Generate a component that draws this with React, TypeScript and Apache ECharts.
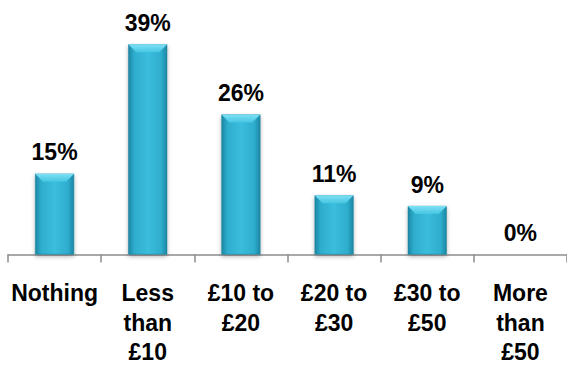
import React, { useEffect, useRef } from "react";
import * as echarts from "echarts";

const categories = ["Nothing", "Less\nthan\n£10", "£10 to\n£20", "£20 to\n£30", "£30 to\n£50", "More\nthan\n£50"];
const values = [15, 39, 26, 11, 9, 0];

export default function App() {
  const ref = useRef<HTMLDivElement>(null);
  useEffect(() => {
    const chart = echarts.init(ref.current!, null, { renderer: "svg" });
    const font = "'Liberation Sans', Arial, sans-serif";
    const barW = 39;
    chart.setOption({
      animation: false,
      grid: { left: 8, right: 0, top: 12, bottom: 112 },
      xAxis: {
        type: "category",
        data: categories,
        axisLine: { lineStyle: { color: "#8c8c8c", width: 1.5 } },
        axisTick: { show: true, length: 8, lineStyle: { color: "#8c8c8c", width: 1.5 } },
        axisLabel: {
          interval: 0,
          color: "#000",
          fontFamily: font,
          fontWeight: "bold",
          fontSize: 23,
          lineHeight: 29.5,
          margin: 24,
        },
      },
      yAxis: { type: "value", min: 0, max: 45, show: false, splitLine: { show: false } },
      series: [
        {
          type: "bar",
          data: values,
          barWidth: barW,
          itemStyle: {
            color: new echarts.graphic.LinearGradient(0, 0, 1, 0, [
              { offset: 0, color: "#1c86a3" },
              { offset: 0.15, color: "#2eadcd" },
              { offset: 0.5, color: "#3bbddd" },
              { offset: 0.85, color: "#2eadcd" },
              { offset: 1, color: "#1c86a3" },
            ]),
            borderColor: "#1b7f99",
            borderWidth: 0.5,
            shadowColor: "rgba(0,0,0,0.3)",
            shadowBlur: 4,
            shadowOffsetY: 2,
          },
          label: {
            show: true,
            position: "top",
            distance: 10,
            formatter: "{c}%",
            color: "#000",
            fontFamily: font,
            fontWeight: "bold",
            fontSize: 23,
          },
        },
        {
          type: "custom",
          data: values.map((v, i) => [i, v]),
          silent: true,
          z: 5,
          renderItem: (params: any, api: any) => {
            const v = api.value(1);
            if (!v) return null;
            const top = api.coord([api.value(0), v]);
            const x0 = top[0] - barW / 2;
            const x1 = top[0] + barW / 2;
            const y = top[1];
            const h = 8;
            return {
              type: "polygon",
              shape: {
                points: [
                  [x0, y],
                  [x1, y],
                  [x1 - h, y + h],
                  [x0 + h, y + h],
                ],
              },
              style: {
                fill: new echarts.graphic.LinearGradient(0, 0, 0, 1, [
                  { offset: 0, color: "#7fe0f4" },
                  { offset: 1, color: "#45c6e3" },
                ]),
              },
            };
          },
        },
      ],
    });
    return () => chart.dispose();
  }, []);
  return <div ref={ref} style={{ position: "absolute", left: 0, top: 0, width: 567, height: 367 }} />;
}
